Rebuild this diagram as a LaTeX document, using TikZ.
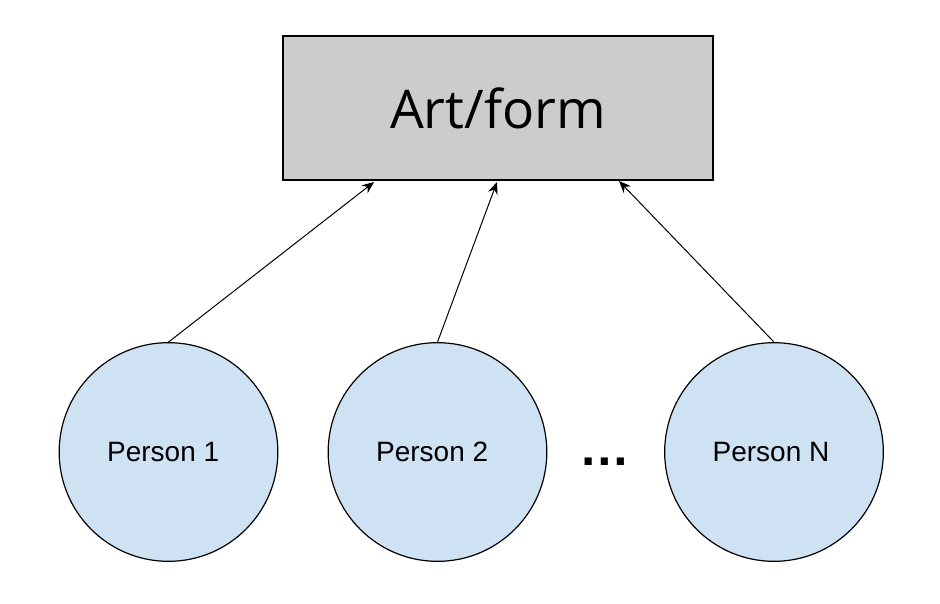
\documentclass[tikz,border=0pt]{standalone}
\usepackage{fontspec}
\setmainfont{Liberation Sans}
\newfontfamily\titlefont{Open Sans}
\usetikzlibrary{arrows.meta}
\definecolor{boxgray}{HTML}{CCCCCC}
\definecolor{personblue}{HTML}{CFE2F3}
\begin{document}
\begin{tikzpicture}[x=0.75pt,y=-0.75pt,
  artbox/.style={draw=black, line width=0.9pt, fill=boxgray, minimum width=322.5pt, minimum height=108pt, inner sep=0pt},
  person/.style={circle, draw=black, line width=0.9pt, fill=personblue, minimum size=164pt, inner sep=0pt, font=\fontsize{21}{25}\selectfont},
  link/.style={line width=0.75pt, -{Stealth[length=9pt,width=7.5pt]}}
]
\useasboundingbox (0,0) rectangle (940,604);
\node[artbox, font=\titlefont\fontsize{40}{48}\selectfont] (art) at (498,108) {Art/form};
\node[person] (p1) at (168.5,452) {\hbox{Person 1\kern8pt}};
\node[person] (p2) at (437.5,452) {\hbox{Person 2\kern8pt}};
\node[person] (pn) at (774,452) {\hbox{Person N\kern4.5pt}};
\node[font=\bfseries\fontsize{38}{44}\selectfont] (dots) at (605,462) {…};
\coordinate (t1) at (374,182);
\coordinate (t2) at (497,182);
\coordinate (t3) at (619,181);
\draw[link] (p1.north) -- (t1);
\draw[link] (p2.north) -- (t2);
\draw[link] (pn.north) -- (t3);
\end{tikzpicture}
\end{document}
